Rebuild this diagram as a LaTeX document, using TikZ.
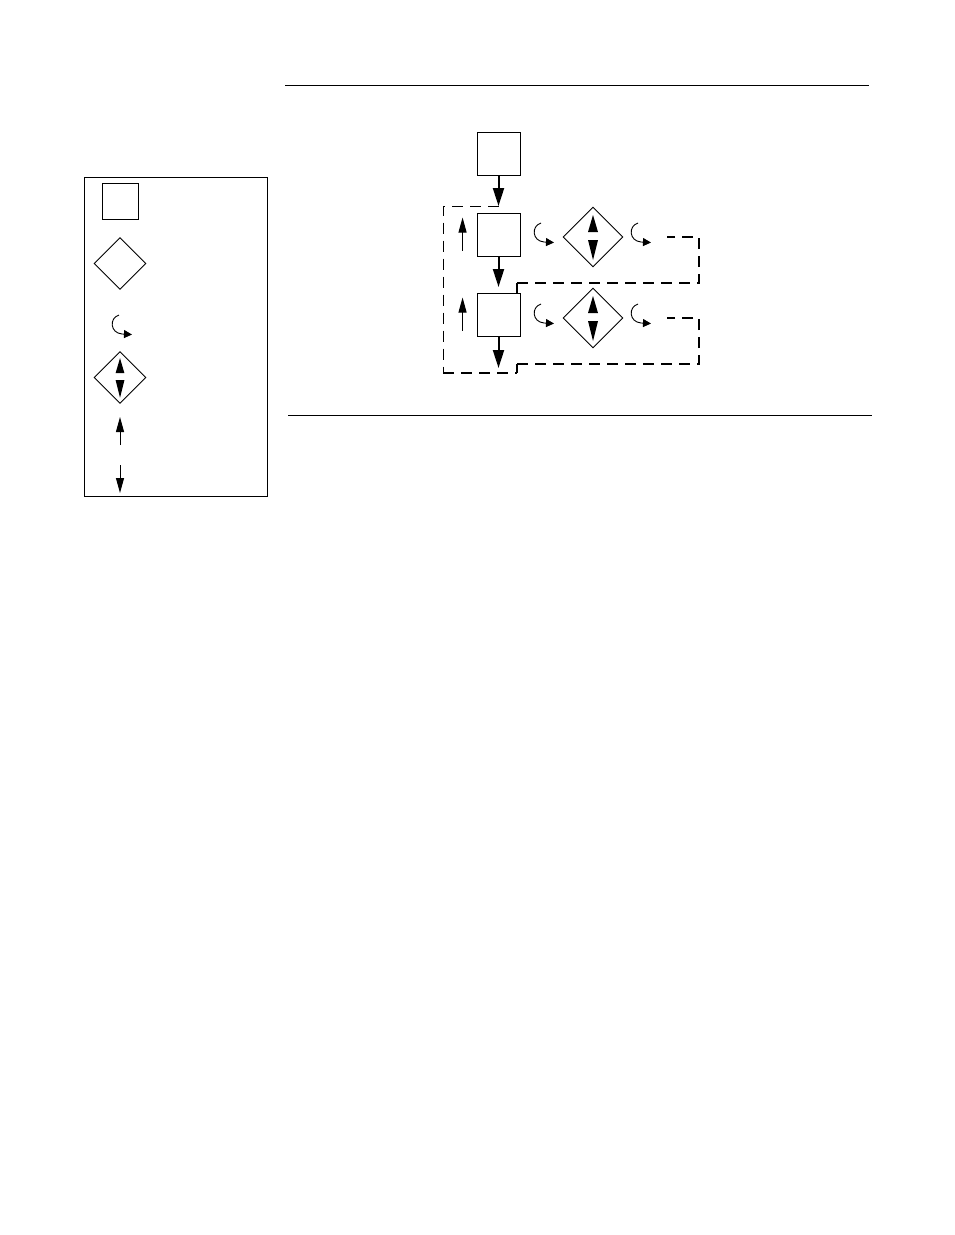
\documentclass[tikz,border=0pt]{standalone}
\usetikzlibrary{arrows.meta,shapes.geometric}

\tikzset{
  box/.style={draw,line width=0.9pt,minimum size=43pt,inner sep=0pt},
  dia/.style={draw,diamond,aspect=1,line width=0.9pt,minimum size=60pt,inner sep=0pt},
  flow/.style={line width=2pt,-{Triangle[width=11pt,length=18pt]}},
  thinflow/.style={line width=1pt,-{Triangle[width=8pt,length=15pt]}},
  fbline/.style={line width=1.5pt,dash pattern=on 11pt off 7pt},
  curl/.pic={
    \draw[line width=0.9pt,-{Triangle[width=8pt,length=8pt]}] (0,0) .. controls (-10,3) and (-9,18) .. (3,19) -- (13,19.5);
  },
  updown/.pic={
    \fill (0,-22) -- (5,-5) -- (-5,-5) -- cycle;
    \fill (0,23) -- (5,3) -- (-5,3) -- cycle;
  }
}

\begin{document}
\begin{tikzpicture}[x=1pt,y=-1pt]
\useasboundingbox (0,0) rectangle (954,1235);

% rules
\draw[line width=1pt] (285,85) -- (869,85);
\draw[line width=1pt] (288,415) -- (872,415);

% legend
\draw[line width=1pt] (84,177) rectangle (267,496);
\node[box,minimum size=36pt] (lsq) at (120,201.5) {};
\node[dia,minimum size=52pt] (ldia) at (120,263.5) {};
\pic at (119,315) {curl};
\node[dia,minimum size=52pt] (lvalve) at (120,377.5) {};
\pic[scale=0.88] at (lvalve.center) {updown};
\coordinate (lup) at (120,445);
\coordinate (ldn) at (120,465);
\draw[thinflow] (lup) -- ++(0,-28);
\draw[thinflow] (ldn) -- ++(0,28);

% main flow
\node[box] (s1) at (498.5,153.5) {};
\node[box] (s2) at (498.5,234.5) {};
\node[box] (s3) at (498.5,314.5) {};
\node[dia] (d1) at (593,237) {};
\node[dia] (d2) at (593,318) {};
\pic at (d1.center) {updown};
\pic at (d2.center) {updown};

\coordinate (j1) at (498.5,206);
\coordinate (j2) at (498.5,287);
\coordinate (j3) at (498.5,368);
\draw[flow] (s1.south) -- (j1);
\draw[flow] (s2.south) -- (j2);
\draw[flow] (s3.south) -- (j3);

% curls
\pic at (541,223) {curl};
\pic at (638,223) {curl};
\pic at (541,304) {curl};
\pic at (638,304) {curl};

% side arrows
\draw[thinflow] (s2.west) ++(-14,16) -- ++(0,-33);
\draw[thinflow] (s3.west) ++(-14,16) -- ++(0,-33);

% return lines
\draw[fbline,line width=1pt] (j1) -- (443,206) -- (443,373);
\draw[fbline] (443,373) -- (517,373);
\draw[line width=1.5pt] (517,373) -- (517,364);
\draw[fbline] (517,364) -- (699,364) -- (699,318) -- (667,318);
\draw[line width=1.5pt] (517,293) -- (517,283);
\draw[fbline] (517,283) -- (699,283) -- (699,237) -- (667,237);
\end{tikzpicture}
\end{document}
